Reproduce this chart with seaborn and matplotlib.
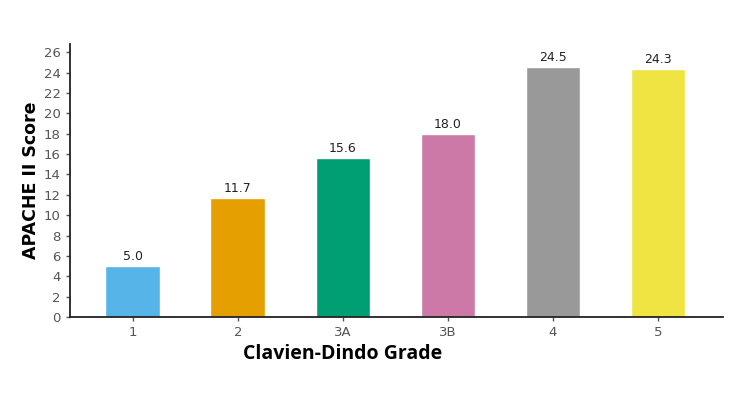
import matplotlib
matplotlib.use("Agg")
import matplotlib.pyplot as plt
import seaborn as sns
import pandas as pd

grades = ["1", "2", "3A", "3B", "4", "5"]
scores = [5.0, 11.7, 15.6, 18.0, 24.5, 24.3]
colors = ["#56B4E9", "#E69F00", "#009E73", "#CC79A7", "#999999", "#F0E442"]
yticks = list(range(0, 27, 2))

sns.set_style("ticks")
plt.rcParams['font.family'] = ['DejaVu Sans']

df = pd.DataFrame({"grade": grades, "score": scores})

fig = plt.figure(figsize=(7.5, 3.93), dpi=100)
ax = fig.add_axes([0.093, 0.193, 0.871, 0.695])
sns.barplot(data=df, x="grade", y="score", hue="grade", palette=colors,
            width=0.52, legend=False, ax=ax, saturation=1)
for i, v in enumerate(scores):
    ax.text(i, v + 0.3, f"{v:.1f}", ha="center", va="bottom", fontsize=9, color="#222222")

ax.set_xlim(-0.6, 5.62)
ax.set_ylim(0, 26.8)
ax.set_yticks(yticks)
ax.tick_params(axis="both", colors="#555555", labelsize=9.5, length=3, width=1)
ax.tick_params(axis="both", labelcolor="#555555")
for s in ["left", "bottom"]:
    ax.spines[s].set_color("#222222")
    ax.spines[s].set_linewidth(1.3)
sns.despine(ax=ax)
ax.set_xlabel("Clavien-Dindo Grade", fontsize=14, fontweight="bold", family="Open Sans", color="black")
ax.xaxis.set_label_coords(0.417, -0.097)
ax.set_ylabel("APACHE II Score", fontsize=12.5, fontweight="bold", color="black", labelpad=3)

fig.savefig("out.png", dpi=100)
